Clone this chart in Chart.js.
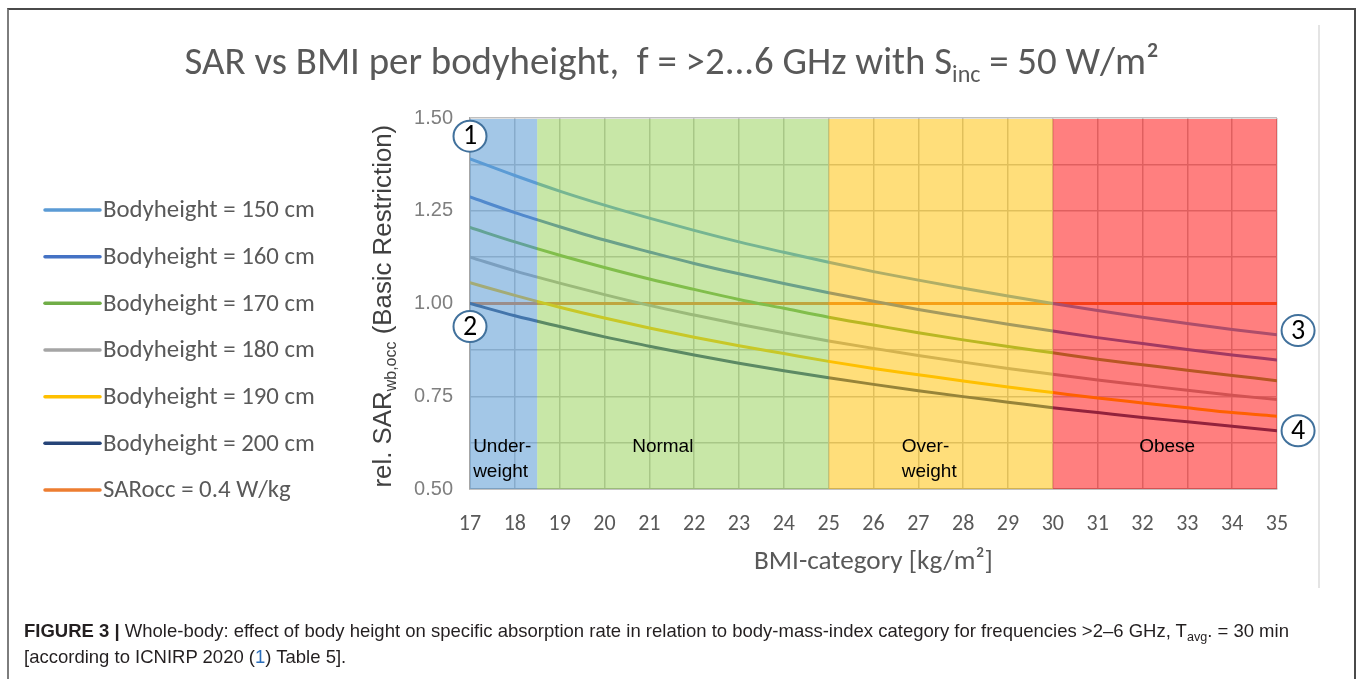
<!DOCTYPE html>
<html><head><meta charset="utf-8">
<script src="https://cdn.jsdelivr.net/npm/chart.js@4.4.0/dist/chart.umd.min.js"></script>
<style>
html,body{margin:0;padding:0;background:#fff;}
#wrap{position:relative;width:1357px;height:679px;overflow:hidden;background:#fff;}
#c{position:absolute;left:0;top:0;}
#frame{position:absolute;left:7px;top:8px;width:1345px;height:720px;border-top:2px solid #4a4a4a;border-left:2px solid #7d7d7d;border-right:2px solid #4a4a4a;pointer-events:none;}
#edge{position:absolute;left:1318px;top:25px;width:2px;height:563px;background:#e4e4e4;}
#cap{position:absolute;left:24px;top:618px;font-family:"Liberation Sans",Arial,Helvetica,sans-serif;font-size:15px;line-height:26px;color:#231f20;white-space:nowrap;}
#cap b{font-weight:bold;}
#cap sub{font-size:0.68em;vertical-align:-0.3em;line-height:0;}
#cap .ref{color:#2a6ebb;}
</style></head>
<body>
<div id="wrap">
  <canvas id="c" width="1357" height="679"></canvas>
  <div id="edge"></div>
  <div id="frame"></div>
  <div id="cap"><div id="l1"><span id="l1s"><b>FIGURE 3 |</b> Whole-body: effect of body height on specific absorption rate in relation to body-mass-index category for frequencies &gt;2–6 GHz, T<sub>avg</sub>. = 30 min</span></div><div>[according to ICNIRP 2020 (<span class="ref">1</span>) Table 5].</div></div>
</div>
<script>
// ---------- data ----------
const bmi = [17,18,19,20,21,22,23,24,25,26,27,28,29,30,31,32,33,34,35];
const xTickLabels = ['17','18','19','20','21','22','23','24','25','26','27','28','29','30','31','32','33','34','35'];
const yTickLabels = ['0.50','0.75','1.00','1.25','1.50'];
const sar150 = [1.390,1.345,1.303,1.265,1.230,1.197,1.166,1.138,1.111,1.086,1.063,1.041,1.020,1.000,0.981,0.963,0.946,0.930,0.916];
const sar160 = [1.287,1.245,1.207,1.171,1.139,1.108,1.080,1.054,1.029,1.006,0.984,0.964,0.944,0.926,0.908,0.892,0.876,0.861,0.848];
const sar170 = [1.205,1.166,1.130,1.097,1.066,1.038,1.011,0.987,0.963,0.942,0.921,0.902,0.884,0.867,0.850,0.835,0.820,0.806,0.792];
const sar180 = [1.125,1.088,1.055,1.024,0.995,0.969,0.944,0.921,0.899,0.879,0.860,0.842,0.825,0.809,0.794,0.780,0.766,0.753,0.741];
const sar190 = [1.056,1.022,0.990,0.961,0.934,0.909,0.886,0.865,0.844,0.825,0.808,0.791,0.775,0.760,0.745,0.732,0.719,0.706,0.696];
const sar200 = [1.000,0.967,0.938,0.910,0.885,0.861,0.839,0.819,0.800,0.782,0.765,0.749,0.734,0.719,0.706,0.693,0.681,0.669,0.657];
const sarOcc = [1,1,1,1,1,1,1,1,1,1,1,1,1,1,1,1,1,1,1];
const seriesLabels = ['Bodyheight = 150 cm','Bodyheight = 160 cm','Bodyheight = 170 cm','Bodyheight = 180 cm','Bodyheight = 190 cm','Bodyheight = 200 cm','SARocc = 0.4 W/kg'];
const bandEdges = [17, 18.5, 25, 30, 35];
const bandNames = [['Under-','weight'],['Normal'],['Over-','weight'],['Obese']];
const markerLabels = ['1','2','3','4'];

// ---------- styles / placement ----------
const lineColors = ['#5B9BD5','#4472C4','#70AD47','#A5A5A5','#FFC000','#264478','#ED7D31'];
const bandFill = ['rgba(91,155,213,0.56)','rgba(146,208,80,0.5)','rgba(255,192,0,0.52)','rgba(255,0,0,0.5)'];
const bandLabelAnchor = [{x:17.07,y:0.615,align:'left'},{x:21.3,y:0.615,align:'center'},{x:26.63,y:0.615,align:'left'},{x:32.55,y:0.615,align:'center'}];
const markerAnchor = [{x:17,y:1.451},{x:17,y:0.938},{x:35.47,y:0.927},{x:35.47,y:0.657}];
const CAL = 'Carlito, Lato, sans-serif';
const ARI = '"Liberation Sans", Arial, sans-serif';

const allSeries = [sar150,sar160,sar170,sar180,sar190,sar200,sarOcc];
const datasets = allSeries.map((s,i)=>({
  label: seriesLabels[i],
  data: bmi.map((b,j)=>({x:b,y:s[j]})),
  borderColor: lineColors[i], backgroundColor: lineColors[i],
  borderWidth: 3, pointRadius: 0, fill:false,
  cubicInterpolationMode:'monotone', borderCapStyle:'round'
}));

const mctx = document.createElement('canvas').getContext('2d');
function fitSize(family, weight, text, target){ mctx.font = `${weight} 100px ${family}`; return 100*target/mctx.measureText(text).width; }
function richWidth(ctx, parts, family, size){
  let w=0; for(const p of parts){ ctx.font = `${p.sub? size*0.62:size}px ${family}`; w+=ctx.measureText(p.t).width; } return w;
}
function drawRich(ctx, parts, family, size, x, y){
  let cx=x;
  for(const p of parts){
    const s = p.sub? size*0.62 : size;
    ctx.font = `${s}px ${family}`;
    ctx.fillText(p.t, cx, p.sub? y+size*0.2 : y);
    cx += ctx.measureText(p.t).width;
  }
}

const deco = {
  id:'deco',
  afterDatasetsDraw(chart){
    const {ctx, chartArea:a, scales:{x}} = chart;
    ctx.save();
    for(let i=0;i<bandEdges.length-1;i++){
      const x0=x.getPixelForValue(bandEdges[i]), x1=x.getPixelForValue(bandEdges[i+1]);
      ctx.fillStyle=bandFill[i];
      ctx.fillRect(x0,a.top+1,x1-x0,a.bottom-a.top-1);
    }
    ctx.restore();
  },
  afterDraw(chart){
    const {ctx, chartArea:a, scales:{x,y}} = chart;
    ctx.save();
    // band labels
    ctx.fillStyle='#000'; ctx.font=`19px ${ARI}`; ctx.textBaseline='middle';
    bandNames.forEach((lines,i)=>{
      const an=bandLabelAnchor[i]; ctx.textAlign=an.align;
      const px=x.getPixelForValue(an.x), py=y.getPixelForValue(an.y);
      lines.forEach((t,k)=>ctx.fillText(t,px,py+k*25));
    });
    // markers
    markerLabels.forEach((t,i)=>{
      const px=x.getPixelForValue(markerAnchor[i].x), py=y.getPixelForValue(markerAnchor[i].y);
      ctx.beginPath(); ctx.ellipse(px,py,16.5,15.5,0,0,Math.PI*2);
      ctx.fillStyle='#fff'; ctx.fill(); ctx.lineWidth=2; ctx.strokeStyle='#41719C'; ctx.stroke();
      ctx.fillStyle='#000'; ctx.font=`28px ${CAL}`; ctx.textAlign='center'; ctx.textBaseline='middle';
      ctx.fillText(t,px,py+1);
    });
    // title
    const tparts=[{t:'SAR vs BMI per bodyheight,  f = >2...6 GHz with S'},{t:'inc',sub:true},{t:' = 50 W/m²'}];
    const w100=richWidth(ctx,tparts,CAL,100); const ts=100*975/w100;
    ctx.fillStyle='#595959'; ctx.textAlign='left'; ctx.textBaseline='alphabetic';
    drawRich(ctx,tparts,CAL,ts,672-975/2,74);
    // legend
    const ls=fitSize(CAL,'',seriesLabels[0],212);
    chart.data.datasets.forEach((d,i)=>{
      const ly=210+i*46.67;
      ctx.strokeStyle=d.borderColor; ctx.lineWidth=3.5; ctx.lineCap='round';
      ctx.beginPath(); ctx.moveTo(45,ly); ctx.lineTo(100,ly); ctx.stroke();
      ctx.fillStyle='#595959'; ctx.font=`${ls}px ${CAL}`; ctx.textAlign='left'; ctx.textBaseline='middle';
      ctx.fillText(d.label,103,ly+1);
    });
    // x axis title
    const xs=fitSize(CAL,'','BMI-category [kg/m²]',239);
    ctx.font=`${xs}px ${CAL}`; ctx.fillStyle='#595959'; ctx.textAlign='center'; ctx.textBaseline='middle';
    ctx.fillText('BMI-category [kg/m²]',(a.left+a.right)/2,562);
    // y axis title
    const yparts=[{t:'rel. SAR'},{t:'wb,occ',sub:true},{t:' (Basic Restriction)'}];
    const yw100=richWidth(ctx,yparts,ARI,100); const ys=100*363/yw100;
    ctx.translate(391,306); ctx.rotate(-Math.PI/2);
    ctx.fillStyle='#404040'; ctx.textAlign='left'; ctx.textBaseline='alphabetic';
    drawRich(ctx,yparts,ARI,ys,-363/2,0);
    ctx.restore();
  }
};

new Chart(document.getElementById('c'),{
  type:'line',
  data:{datasets},
  options:{
    responsive:false, animation:false,
    layout:{padding:{left:0,right:80,top:118,bottom:0}},
    plugins:{legend:{display:false},title:{display:false},tooltip:{enabled:false}},
    scales:{
      x:{type:'linear',min:17,max:35,
        afterFit(s){s.height=190;},
        ticks:{stepSize:1,autoSkip:false,maxRotation:0,padding:22,color:'#595959',
          font:{family:CAL,size:22},
          callback:(v)=>{const i=bmi.indexOf(v);return i>=0?xTickLabels[i]:'';}},
        grid:{color:'#BFBFBF',lineWidth:1.5,drawTicks:false},
        border:{display:true,color:'#A6A6A6',width:1.5}
      },
      y:{type:'linear',min:0.5,max:1.5,
        afterFit(s){s.width=470;},
        ticks:{stepSize:0.125,autoSkip:false,padding:17,color:'#7F7F7F',
          font:{family:ARI,size:20},
          callback:(v)=>{const k=(v-0.5)/0.25;const r=Math.round(k);return Math.abs(k-r)<1e-6?yTickLabels[r]:'';}},
        grid:{color:'#BFBFBF',lineWidth:1.5,drawTicks:false},
        border:{display:true,color:'#A6A6A6',width:1.5}
      }
    }
  },
  plugins:[deco]
});

// fit caption first line to reference width
const l1=document.getElementById('l1s');
const cap=document.getElementById('cap');
const w=l1.getBoundingClientRect().width;
cap.style.fontSize=(15*1266/w)+'px';
</script>
</body></html>
